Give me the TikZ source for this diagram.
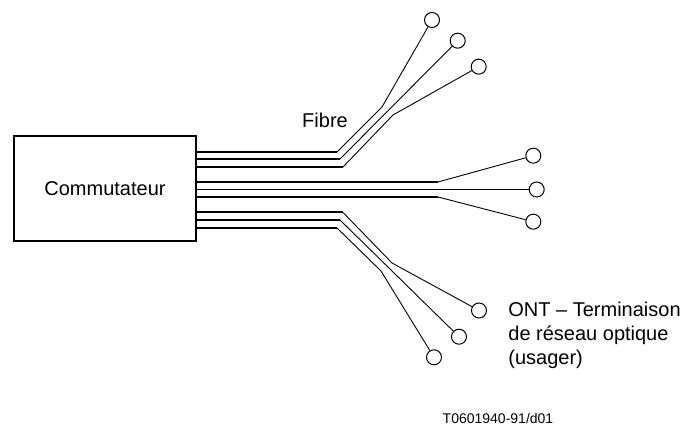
\documentclass[tikz,border=0pt]{standalone}
\usepackage{fontspec}
\setmainfont{Liberation Sans}

\tikzset{
  ont/.style={draw,circle,minimum size=7.5pt,inner sep=0pt,line width=0.5pt},
  fibre/.style={line width=1pt},
  brin/.style={line width=0.45pt}
}

\begin{document}
\begin{tikzpicture}[x=0.5pt,y=-0.5pt]
\useasboundingbox (0,0) rectangle (691,426);
\node[draw,line width=0.6pt,minimum width=91pt,minimum height=52.5pt] (sw) at (105,188.5) {Commutateur};
% terminaisons
\node[ont] (o1) at (432,20) {};
\node[ont] (o2) at (457.7,40.7) {};
\node[ont] (o3) at (478.7,66.7) {};
\node[ont] (o4) at (533.3,155.7) {};
\node[ont] (o5) at (536.7,189.5) {};
\node[ont] (o6) at (533.3,221.7) {};
\node[ont] (o7) at (479,310.5) {};
\node[ont] (o8) at (459,336.7) {};
\node[ont] (o9) at (434,357.3) {};
% departs
\coordinate (a1) at (196,152);
\coordinate (a2) at (196,159.5);
\coordinate (a3) at (196,167);
\coordinate (a4) at (196,182);
\coordinate (a5) at (196,189.5);
\coordinate (a6) at (196,197);
\coordinate (a7) at (196,212.5);
\coordinate (a8) at (196,220);
\coordinate (a9) at (196,228);
% coudes
\coordinate (b1) at (337,152);
\coordinate (b2) at (339.5,159.5);
\coordinate (b3) at (343,167);
\coordinate (b4) at (438,182);
\coordinate (b6) at (438,197);
\coordinate (b7) at (343,212.5);
\coordinate (b8) at (340,220);
\coordinate (b9) at (337,228);
\coordinate (c1) at (382,107);
\coordinate (c3) at (393,115);
\coordinate (c7) at (392,263);
\coordinate (c9) at (381,271);
\draw[fibre] (a1) -- (b1);
\draw[fibre] (a2) -- (b2);
\draw[fibre] (a3) -- (b3);
\draw[fibre] (a4) -- (b4);
\draw[fibre] (a6) -- (b6);
\draw[fibre] (a7) -- (b7);
\draw[fibre] (a8) -- (b8);
\draw[fibre] (a9) -- (b9);
\draw[brin] (b1) -- (c1) -- (o1);
\draw[brin] (b2) -- (o2);
\draw[brin] (b3) -- (c3) -- (o3);
\draw[brin] (b4) -- (o4);
\draw[brin] (a5) -- (o5);
\draw[brin] (b6) -- (o6);
\draw[brin] (b7) -- (c7) -- (o7);
\draw[brin] (b8) -- (o8);
\draw[brin] (b9) -- (c9) -- (o9);
\node (fb) at (325,120) {Fibre};
\node[anchor=north west,align=left,inner sep=0pt] (lg) at (508,302) {ONT -- Terminaison\\de réseau optique\\(usager)};
\node[font=\fontsize{7}{8}\selectfont] (ref) at (498,418) {T0601940-91/d01};
\end{tikzpicture}
\end{document}
